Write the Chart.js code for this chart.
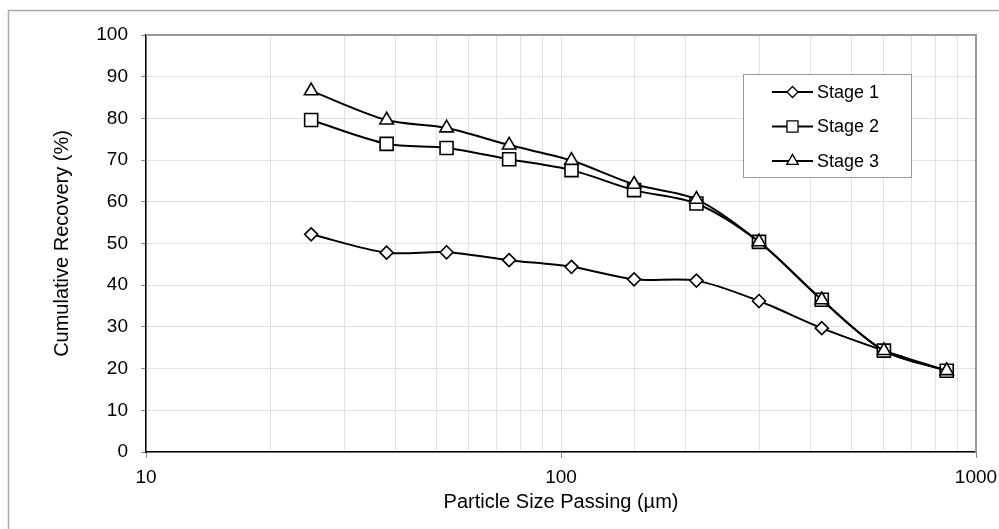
<!DOCTYPE html>
<html>
<head>
<meta charset="utf-8">
<script src="https://cdn.jsdelivr.net/npm/chart.js@4.4.1/dist/chart.umd.min.js"></script>
<style>
    body { margin: 0; background: #fff; }
    #wrap { position: relative; width: 999px; height: 529px; }
</style>
</head>
<body>
<div id="wrap"><canvas id="recoveryChart"></canvas></div>
<script>
// Particle sizes (um) and cumulative recovery (%) per stage
const sizes = [25, 38, 53, 75, 106, 150, 212, 300, 425, 600, 850];
const stage1 = [52.2, 47.8, 47.9, 46.0, 44.4, 41.4, 41.1, 36.2, 29.7, 24.3, 19.5];
const stage2 = [79.6, 73.9, 72.9, 70.2, 67.6, 62.8, 59.6, 50.4, 36.5, 24.3, 19.5];
const stage3 = [86.6, 79.6, 77.7, 73.6, 69.9, 64.2, 60.6, 50.4, 36.5, 24.3, 19.5];
const seriesNames = ['Stage 1', 'Stage 2', 'Stage 3'];
const xTickLabels = [10, 100, 1000];

const FONT = '"Liberation Sans", Arial, sans-serif';

function toPoints(values) {
    return sizes.map((s, i) => ({ x: s, y: values[i] }));
}

function isMajor(v) {
    return xTickLabels.includes(v);
}

// frame, outer border and legend box drawn like the Excel original
const framePlugin = {
    id: 'framePlugin',
    beforeDatasetsDraw(chart) {
        const { ctx, chartArea } = chart;
        ctx.save();
        ctx.strokeStyle = '#999';
        ctx.lineWidth = 2;
        ctx.beginPath();
        ctx.moveTo(chartArea.left, chartArea.top);
        ctx.lineTo(chartArea.right, chartArea.top);
        ctx.lineTo(chartArea.right, chartArea.bottom);
        ctx.stroke();
        ctx.restore();
    },
    afterDraw(chart) {
        const { ctx, chartArea } = chart;
        ctx.save();
        // outer chart border (cut off at right/bottom)
        ctx.strokeStyle = '#aaa';
        ctx.lineWidth = 1.5;
        ctx.strokeRect(8.5, 10.5, 1100, 600);

        // legend
        const bx = chartArea.right - 233, by = chartArea.top + 39;
        const bw = 168, bh = 103;
        ctx.fillStyle = '#fff';
        ctx.fillRect(bx, by, bw, bh);
        ctx.strokeStyle = '#999';
        ctx.lineWidth = 1;
        ctx.strokeRect(bx + 0.5, by + 0.5, bw, bh);
        ctx.font = '18px ' + FONT;
        ctx.textBaseline = 'middle';
        ctx.textAlign = 'left';
        chart.data.datasets.forEach((ds, i) => {
            const y = by + 18 + i * 34.5;
            ctx.strokeStyle = '#000';
            ctx.lineWidth = 2;
            ctx.beginPath();
            ctx.moveTo(bx + 29, y);
            ctx.lineTo(bx + 70, y);
            ctx.stroke();
            ctx.fillStyle = '#fff';
            ctx.lineWidth = 1.3;
            Chart.helpers.drawPoint(ctx, {
                pointStyle: ds.pointStyle,
                radius: ds.pointRadius * 0.85,
                rotation: 0,
                borderWidth: 1.3
            }, bx + 49.5, y);
            ctx.fillStyle = '#000';
            ctx.fillText(ds.label, bx + 74, y + 1);
        });
        ctx.restore();
    }
};

const styles = [
    { pointStyle: 'rectRot', pointRadius: 6.5 },
    { pointStyle: 'rect', pointRadius: 9.2 },
    { pointStyle: 'triangle', pointRadius: 7.8 }
];

const datasets = [stage1, stage2, stage3].map((vals, i) => ({
    label: seriesNames[i],
    data: toPoints(vals),
    showLine: true,
    borderColor: '#000',
    borderWidth: 2,
    tension: 0.3,
    pointStyle: styles[i].pointStyle,
    pointRadius: styles[i].pointRadius,
    pointHoverRadius: styles[i].pointRadius,
    pointBackgroundColor: '#fff',
    pointBorderColor: '#000',
    pointBorderWidth: 1.6,
    order: 2 - i
}));

new Chart(document.getElementById('recoveryChart'), {
    type: 'scatter',
    data: { datasets: datasets },
    options: {
        responsive: true,
        maintainAspectRatio: false,
        animation: false,
        layout: { padding: { left: 0, right: 23, top: 35, bottom: 0 } },
        plugins: {
            legend: { display: false },
            tooltip: { enabled: false }
        },
        scales: {
            x: {
                type: 'logarithmic',
                min: 10,
                max: 1000,
                border: { color: '#000', width: 1.5 },
                grid: {
                    color: '#e2e2e2',
                    lineWidth: 1,
                    tickLength: 6,
                    tickColor: ctx => (ctx.tick && isMajor(ctx.tick.value)) ? '#888' : 'rgba(0,0,0,0)'
                },
                ticks: {
                    autoSkip: false,
                    maxRotation: 0,
                    padding: 8,
                    color: '#000',
                    font: { family: FONT, size: 19 },
                    callback: v => isMajor(v) ? String(v) : ''
                },
                title: {
                    display: true,
                    text: 'Particle Size Passing (µm)',
                    color: '#000',
                    font: { family: FONT, size: 20 },
                    padding: { top: 0, bottom: 15 }
                },
                afterFit: scale => {
                    scale.height = 77;
                    scale.paddingLeft = 0;
                    scale.paddingRight = 0;
                }
            },
            y: {
                min: 0,
                max: 100,
                border: { color: '#000', width: 1.5 },
                grid: {
                    color: '#e2e2e2',
                    lineWidth: 1,
                    tickLength: 5,
                    tickColor: '#888'
                },
                ticks: {
                    stepSize: 10,
                    padding: 13,
                    color: '#000',
                    font: { family: FONT, size: 19 }
                },
                title: {
                    display: true,
                    text: 'Cumulative Recovery (%)',
                    color: '#000',
                    font: { family: FONT, size: 20 },
                    padding: { top: 50, bottom: 0 }
                },
                afterFit: scale => {
                    scale.width = 146;
                    scale.paddingTop = 0;
                    scale.paddingBottom = 0;
                }
            }
        }
    },
    plugins: [framePlugin]
});
</script>
</body>
</html>
